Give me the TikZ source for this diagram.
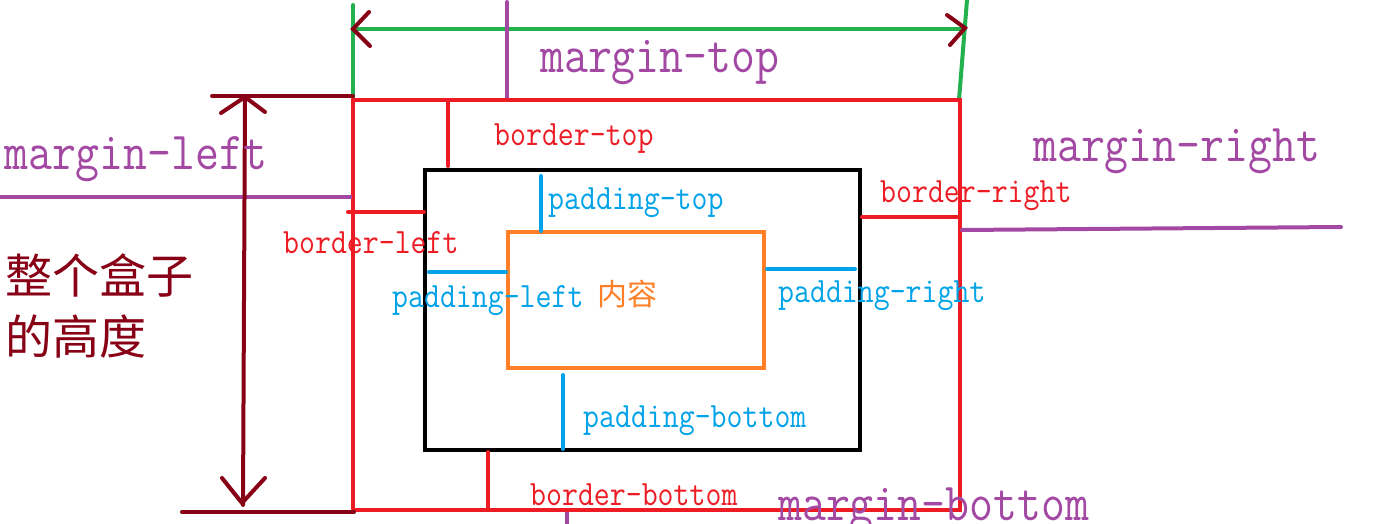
\documentclass[tikz,border=0pt]{standalone}
\usepackage{fontspec}
\usepackage{graphicx}
\newfontfamily\cjk{Noto Sans CJK SC}
\definecolor{mpurple}{HTML}{A349A4}
\definecolor{mred}{HTML}{ED1C24}
\definecolor{mblue}{HTML}{00A2E8}
\definecolor{morange}{HTML}{FF7F27}
\definecolor{mgreen}{HTML}{22B14C}
\definecolor{mdark}{HTML}{880015}
\newcommand{\tallt}[1]{\scalebox{1.025}[1.18]{#1}}
\tikzset{
  ln/.style={line width=4pt, line cap=round},
  big/.style={inner sep=0pt, anchor=base west, font=\fontsize{45.3}{50}\selectfont\ttfamily},
  small/.style={inner sep=0pt, anchor=base west, font=\fontsize{30.2}{34}\selectfont\ttfamily},
}
\begin{document}
\begin{tikzpicture}[x=1pt,y=-1pt]
\useasboundingbox (0,0) rectangle (1382,524);
\clip (0,0) rectangle (1382,524);
% margin-top dimension (green)
\draw[ln,mgreen] (353,5) -- (353,118);
\draw[ln,mgreen] (967,0) -- (959,100);
\draw[ln,mgreen] (353,29) -- (965,29);
\draw[ln,mdark] (369,12) -- (353,29) -- (370,46);
\draw[ln,mdark] (947,15) -- (965,28) -- (950,45);
\draw[ln,mpurple] (507,2) -- (507,99);
% outer red border box
\draw[ln,mred,line cap=butt] (353,100) rectangle (960,510);
% black box
\draw[line width=4.5pt,black] (425,170) rectangle (860,450);
% content box
\draw[line width=4pt,morange] (508,232) rectangle (764,368);
% border ticks
\draw[ln,mred] (448,102) -- (448,166);
\draw[ln,mred] (348,212) -- (424,212);
\draw[ln,mred] (862,217) -- (958,217);
\draw[ln,mred] (488,452) -- (488,508);
% padding ticks
\draw[ln,mblue] (541,176) -- (541,231);
\draw[ln,mblue] (429,272) -- (506,272);
\draw[ln,mblue] (767,269) -- (855,269);
\draw[ln,mblue] (563,375) -- (563,449);
% margin lines
\draw[ln,mpurple,line cap=butt] (0,197) -- (352,197);
\draw[ln,mpurple] (962,230) -- (1341,227);
\draw[ln,mpurple,line cap=butt] (567,512) -- (567,526);
% height dimension
\draw[ln,mdark] (212,96) -- (353,96);
\draw[ln,mdark] (182,512) -- (354,512);
\draw[ln,mdark] (245,97) -- (243,505);
\draw[ln,mdark] (221,113) -- (245,97) -- (265,112);
\draw[ln,mdark] (222,478) -- (242,503) -- (265,478);
% labels
\node[big,text=mpurple] (mt) at (540,73) {\tallt{margin-top}};
\node[big,text=mpurple] (ml) at (4,170) {\tallt{margin-left}};
\node[big,text=mpurple] (mr) at (1033,161) {\tallt{margin-right}};
\node[big,text=mpurple] (mb) at (778,520) {\tallt{margin-bottom}};
\node[small,text=mred] (bt) at (494,146) {\tallt{border-top}};
\node[small,text=mred] (bl) at (283,253) {\tallt{border-left}};
\node[small,text=mred] (br) at (880,202) {\tallt{border-right}};
\node[small,text=mred] (bb) at (530,505) {\tallt{border-bottom}};
\node[small,text=mblue] (pt) at (548,209) {\tallt{padding-top}};
\node[small,text=mblue] (pl) at (392,307) {\tallt{padding-left}};
\node[small,text=mblue] (pr) at (778,302) {\tallt{padding-right}};
\node[small,text=mblue] (pb) at (583,427) {\tallt{padding-bottom}};
\node[inner sep=0pt,anchor=base west,text=morange,font=\cjk\fontsize{30}{34}\selectfont] (nr) at (597,305) {内容};
\node[inner sep=0pt,anchor=base west,text=mdark,font=\cjk\fontsize{47}{52}\selectfont] (h1) at (5,293) {整个盒子};
\node[inner sep=0pt,anchor=base west,text=mdark,font=\cjk\fontsize{47}{52}\selectfont] (h2) at (5,354) {的高度};
\end{tikzpicture}
\end{document}
